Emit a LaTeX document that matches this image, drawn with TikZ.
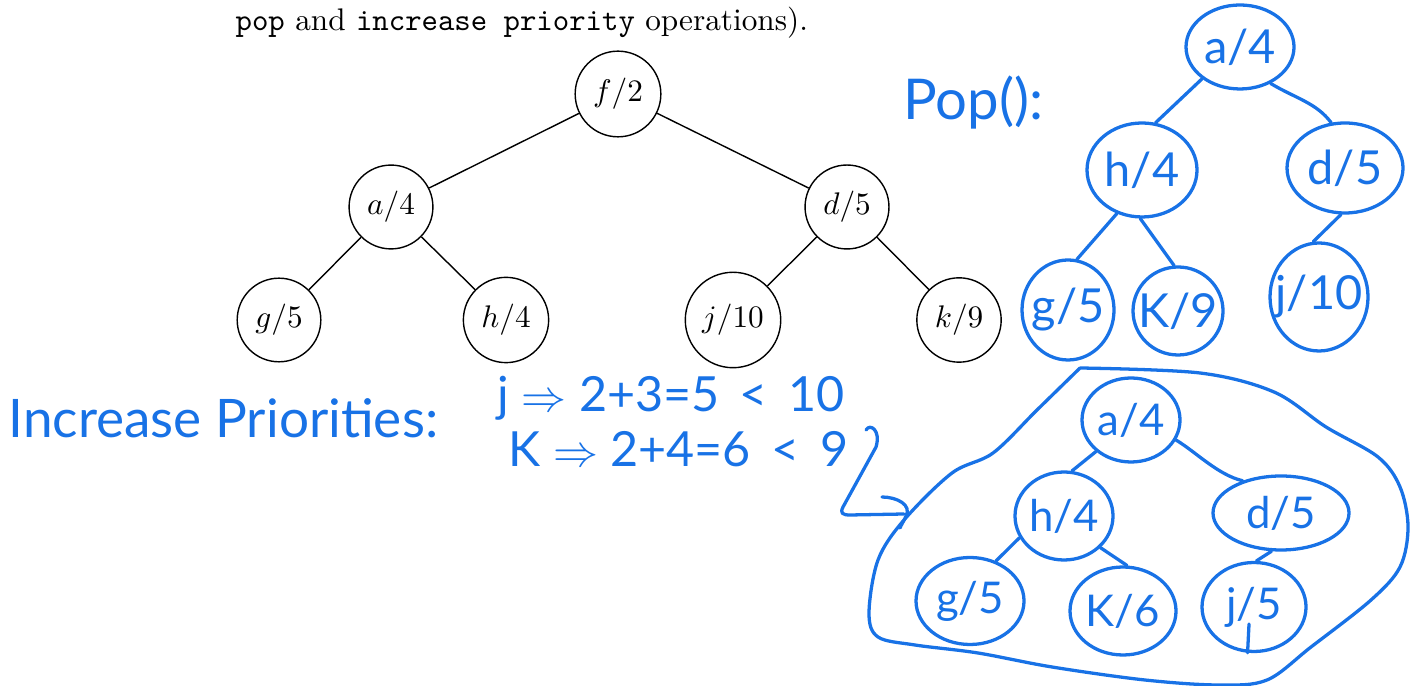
\documentclass[tikz,border=0pt]{standalone}
\usepackage{fontspec}
\newfontfamily\handfont{Lato}
\usetikzlibrary{shapes.geometric}
\definecolor{ink}{RGB}{24,114,230}
\newdimen\pxu \pxu=0.32pt
% text of zero width, so that an ellipse keeps the size it is given
\newcommand\inbox[1]{\makebox[0pt]{#1}}

\begin{document}
\begin{tikzpicture}[x=0.32pt, y=-0.32pt,
  heap/.style={circle, draw, line width=0.45pt, inner sep=3.1pt},
  edge/.style={line width=0.45pt},
  pen/.style={draw=ink, line width=1.05pt, line cap=round, line join=round},
  blob/.style={ellipse, pen, inner sep=0pt, text=ink, font=\handfont\fontsize{15}{18}\selectfont},
  smallblob/.style={blob, font=\handfont\fontsize{14}{17}\selectfont},
  note/.style={anchor=base west, inner sep=0pt, text=ink, font=\handfont\fontsize{15.5}{18}\selectfont},
]
\useasboundingbox (0,0) rectangle (1411,686);

% printed caption line
\node[anchor=base west, inner sep=0pt] (cap) at (235,31)
  {\texttt{pop} and \texttt{increase priority} operations).};

% printed heap
\node[heap] (f) at (618,94)  {$f/2$};
\node[heap] (a) at (391,207) {$a/4$};
\node[heap] (d) at (847,207) {$d/5$};
\node[heap] (g) at (279,320) {$g/5$};
\node[heap] (h) at (506,320) {$h/4$};
\node[heap] (j) at (733,320) {$j/10$};
\node[heap] (k) at (959,320) {$k/9$};
\draw[edge] (f) -- (a);
\draw[edge] (f) -- (d);
\draw[edge] (a) -- (g);
\draw[edge] (a) -- (h);
\draw[edge] (d) -- (j);
\draw[edge] (d) -- (k);

% handwritten notes
\node[note, font=\handfont\fontsize{18}{21}\selectfont] (poplbl) at (903,120) {Pop():};
\node[note, font=\handfont\fontsize{17}{20}\selectfont] (inclbl) at (8,438) {Increase Priorities:};
\node[note] (jline) at (497,412) {j \(\Rightarrow\) 2+3=5 \,<\, 10};
\node[note] (kline) at (508,467) {K \(\Rightarrow\) 2+4=6 \,<\, 9};

% heap after pop
\node[blob, minimum width=108\pxu, minimum height=84\pxu]  (pa) at (1240,47)  {\inbox{a/4}};
\node[blob, minimum width=110\pxu, minimum height=94\pxu]  (ph) at (1142,170) {\inbox{h/4}};
\node[blob, minimum width=116\pxu, minimum height=90\pxu]  (pd) at (1345,168) {\inbox{d/5}};
\node[blob, minimum width=92\pxu,  minimum height=100\pxu] (pg) at (1068,310) {\inbox{g/5}};
\node[blob, minimum width=90\pxu,  minimum height=88\pxu]  (pk) at (1178,311) {\inbox{K/9}};
\node[blob, minimum width=98\pxu,  minimum height=108\pxu] (pj) at (1319,297) {\inbox{j/10}};
\draw[pen] (pa.220) -- (ph.74);
\draw[pen] (pa.310) .. controls +(25,15) and +(-15,-20) .. (pd.107);
\draw[pen] (ph.240) -- (pg.80);
\draw[pen] (ph.268) -- (pk.95);
\draw[pen] (pd.265) -- (pj.96);

% heap after the priority increases
\node[smallblob, minimum width=98\pxu,  minimum height=84\pxu] (qa) at (1131,420) {\inbox{a/4}};
\node[smallblob, minimum width=98\pxu,  minimum height=88\pxu] (qh) at (1064,516) {\inbox{h/4}};
\node[smallblob, minimum width=136\pxu, minimum height=74\pxu] (qd) at (1281,513) {\inbox{d/5}};
\node[smallblob, minimum width=108\pxu, minimum height=87\pxu] (qg) at (970,601)  {\inbox{g/5}};
\node[smallblob, minimum width=106\pxu, minimum height=88\pxu] (qk) at (1123,611) {\inbox{K/6}};
\node[smallblob, minimum width=104\pxu, minimum height=89\pxu] (qj) at (1254,607) {\inbox{j/5}};
\draw[pen] (qa.222) -- (qh.80);
\draw[pen] (qa.336) .. controls +(20,12) and +(-25,-6) .. (qd.140);
\draw[pen] (qh.206) -- (qg.57);
\draw[pen] (qh.319) -- (qk.85);
\draw[pen] (qd.256) -- (qj.87);
\draw[pen] (qj) ++(-5,17) -- (qj.262);

% outline round the second heap
\draw[pen] plot[smooth, tension=0.55] coordinates {
  (1080,368) (1200,373) (1274,392) (1326,427) (1378,457) (1400,487)
  (1408,527) (1400,567) (1371,600) (1311,647) (1267,680) (1219,685)
  (1145,680) (1052,667) (978,653) (915,645) (878,637) (869,613)
  (878,560) (904,520) (952,473) (993,453) (1037,410) (1080,368)};

% hooked arrow leading to the second heap
\coordinate (arrS) at (866,430);
\coordinate (arrE) at (904,514);
\draw[pen] (arrS) .. controls (870,423) and (881,430) .. (876,447)
  -- (843,507) .. controls (840,513) and (842,515) .. (850,515) -- (arrE);
\draw[pen] (882,497) .. controls (897,497) and (912,505) .. (906,516)
  .. controls (904,521) and (901,525) .. (900,528);
\end{tikzpicture}
\end{document}
